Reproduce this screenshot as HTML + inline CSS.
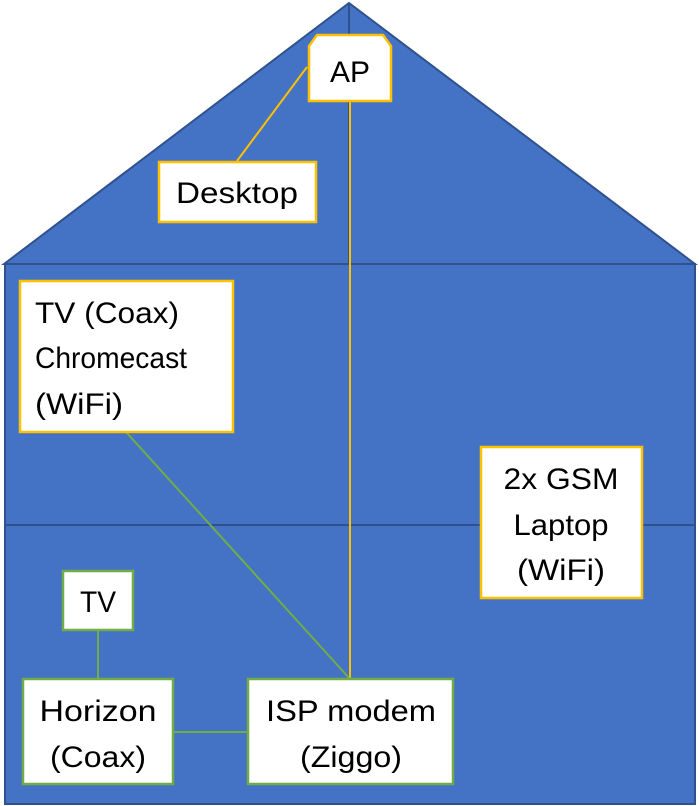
<!DOCTYPE html>
<html><head><meta charset="utf-8"><style>html,body{margin:0;padding:0;background:#fff}svg{display:block}</style></head>
<body>
<svg width="699" height="806" viewBox="0 0 699 806" xmlns="http://www.w3.org/2000/svg" font-family="Liberation Sans, sans-serif" font-size="30" fill="#000">
<polygon points="4,264 349,3 695,264" fill="#4472C4" stroke="#2F528F" stroke-width="2"/>
<rect x="5" y="264" width="690" height="540" fill="#4472C4" stroke="#2F528F" stroke-width="2"/>
<line x1="349" y1="3" x2="349" y2="264" stroke="#2F528F" stroke-width="2"/>
<line x1="5" y1="525" x2="695" y2="525" stroke="#2F528F" stroke-width="2"/>
<line x1="307" y1="67" x2="237" y2="161" stroke="#FFC000" stroke-width="2"/>
<line x1="350" y1="102" x2="350" y2="679" stroke="#FFC000" stroke-width="2"/>
<line x1="126" y1="432" x2="350" y2="679" stroke="#70AD47" stroke-width="2"/>
<line x1="98" y1="630" x2="98" y2="679" stroke="#70AD47" stroke-width="2"/>
<line x1="173" y1="732" x2="248" y2="732" stroke="#70AD47" stroke-width="2"/>
<polygon points="317,35 383,35 391,46 391,101 309,101 309,46" fill="#fff" stroke="#FFC000" stroke-width="2.5"/>
<text x="350" y="82" text-anchor="middle" textLength="40" lengthAdjust="spacingAndGlyphs">AP</text>
<rect x="159" y="162" width="157" height="60" fill="#fff" stroke="#FFC000" stroke-width="2.5"/>
<text x="237" y="203" text-anchor="middle" textLength="122" lengthAdjust="spacingAndGlyphs">Desktop</text>
<rect x="20" y="281" width="213" height="151" fill="#fff" stroke="#FFC000" stroke-width="2.5"/>
<text x="35" y="323" textLength="144" lengthAdjust="spacingAndGlyphs">TV (Coax)</text>
<text x="35" y="368" textLength="152" lengthAdjust="spacingAndGlyphs">Chromecast</text>
<text x="35" y="414" textLength="88" lengthAdjust="spacingAndGlyphs">(WiFi)</text>
<rect x="481" y="447" width="161" height="151" fill="#fff" stroke="#FFC000" stroke-width="2.5"/>
<text x="561" y="489" text-anchor="middle" textLength="115" lengthAdjust="spacingAndGlyphs">2x GSM</text>
<text x="561" y="535" text-anchor="middle" textLength="95" lengthAdjust="spacingAndGlyphs">Laptop</text>
<text x="561" y="580" text-anchor="middle" textLength="88" lengthAdjust="spacingAndGlyphs">(WiFi)</text>
<rect x="63" y="571" width="70" height="59" fill="#fff" stroke="#70AD47" stroke-width="2.5"/>
<text x="98" y="612" text-anchor="middle" textLength="36" lengthAdjust="spacingAndGlyphs">TV</text>
<rect x="23" y="679" width="150" height="105" fill="#fff" stroke="#70AD47" stroke-width="2.5"/>
<text x="98" y="721" text-anchor="middle" textLength="117" lengthAdjust="spacingAndGlyphs">Horizon</text>
<text x="98" y="767" text-anchor="middle" textLength="96" lengthAdjust="spacingAndGlyphs">(Coax)</text>
<rect x="248" y="679" width="205" height="105" fill="#fff" stroke="#70AD47" stroke-width="2.5"/>
<text x="351" y="721" text-anchor="middle" textLength="170" lengthAdjust="spacingAndGlyphs">ISP modem</text>
<text x="351" y="767" text-anchor="middle" textLength="102" lengthAdjust="spacingAndGlyphs">(Ziggo)</text>
</svg>
</body></html>
